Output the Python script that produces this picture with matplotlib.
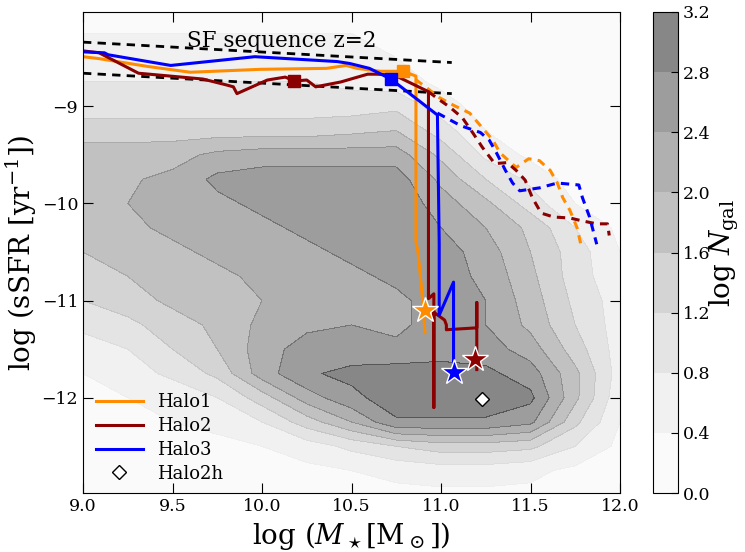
import numpy as np
import matplotlib
matplotlib.use("Agg")
import matplotlib.pyplot as plt

plt.rcParams['font.family'] = 'DejaVu Serif'
plt.rcParams['mathtext.fontset'] = 'dejavuserif'
plt.rcParams['lines.scale_dashes'] = False

# background galaxy density (log N_gal) on a coarse grid
mass_grid = [9.0, 9.25, 9.5, 9.75, 10.0, 10.25, 10.5, 10.75, 11.0, 11.25, 11.5, 11.75, 12.0]
ssfr_grid = [-13.0, -12.75, -12.5, -12.25, -12.0, -11.75, -11.5, -11.25, -11.0, -10.75,
             -10.5, -10.25, -10.0, -9.75, -9.5, -9.25, -9.0, -8.75, -8.5, -8.25, -8.0]
log_ngal = [
    [0.1, 0.1, 0.1, 0.2, 0.2, 0.2, 0.3, 0.3, 0.3, 0.3, 0.3, 0.2, 0.1],
    [0.2, 0.2, 0.2, 0.2, 0.2, 0.3, 0.4, 0.5, 0.6, 0.6, 0.5, 0.3, 0.2],
    [0.2, 0.2, 0.2, 0.3, 0.4, 0.6, 0.9, 1.2, 1.4, 1.4, 1.3, 0.8, 0.3],
    [0.2, 0.3, 0.4, 0.5, 0.8, 1.4, 2.0, 2.75, 2.75, 2.75, 2.5, 1.3, 0.4],
    [0.3, 0.4, 0.5, 0.8, 1.4, 2.2, 2.7, 3.0, 3.0, 3.0, 2.9, 1.7, 0.5],
    [0.4, 0.6, 0.9, 1.3, 2.2, 2.75, 2.9, 3.0, 3.0, 2.9, 2.6, 1.7, 0.6],
    [0.6, 0.8, 1.2, 1.6, 2.2, 2.6, 2.6, 2.5, 2.6, 2.6, 2.2, 1.4, 0.6],
    [0.9, 1.1, 1.4, 1.7, 2.1, 2.3, 2.4, 2.3, 2.6, 2.4, 1.9, 1.2, 0.6],
    [1.2, 1.4, 1.7, 1.8, 2.0, 2.2, 2.3, 2.3, 2.6, 2.4, 1.8, 1.1, 0.6],
    [1.4, 1.6, 1.8, 1.9, 2.1, 2.2, 2.3, 2.5, 2.6, 2.3, 1.7, 1.0, 0.5],
    [1.6, 1.8, 1.9, 2.1, 2.2, 2.3, 2.5, 2.7, 2.6, 2.2, 1.6, 1.0, 0.4],
    [1.8, 1.9, 2.1, 2.2, 2.3, 2.5, 2.7, 2.7, 2.4, 2.0, 1.5, 0.8, 0.3],
    [1.9, 2.0, 2.2, 2.3, 2.5, 2.6, 2.7, 2.7, 2.2, 1.7, 1.0, 0.4, 0.1],
    [1.9, 1.95, 2.1, 2.5, 2.6, 2.6, 2.6, 2.6, 1.9, 1.2, 0.7, 0.2, 0.1],
    [1.8, 1.8, 1.85, 2.1, 2.2, 2.2, 2.2, 2.2, 1.5, 0.7, 0.3, 0.1, 0.1],
    [1.4, 1.4, 1.4, 1.4, 1.4, 1.4, 1.5, 1.6, 1.0, 0.4, 0.2, 0.1, 0.1],
    [1.0, 1.0, 1.0, 1.0, 1.0, 1.0, 1.0, 1.1, 0.6, 0.2, 0.1, 0.1, 0.1],
    [0.8, 0.8, 0.8, 0.8, 0.8, 0.8, 0.7, 0.6, 0.3, 0.1, 0.1, 0.1, 0.1],
    [0.6, 0.6, 0.6, 0.6, 0.6, 0.6, 0.5, 0.4, 0.2, 0.1, 0.1, 0.1, 0.1],
    [0.4, 0.4, 0.4, 0.4, 0.4, 0.4, 0.4, 0.3, 0.2, 0.1, 0.1, 0.1, 0.1],
    [0.3, 0.3, 0.3, 0.3, 0.3, 0.3, 0.3, 0.2, 0.1, 0.1, 0.1, 0.1, 0.1],
]
levels = [0.0, 0.4, 0.8, 1.2, 1.6, 2.0, 2.4, 2.8, 3.2]

# SF sequence band at z=2
sf_mass = [9.0, 11.06]
sf_upper = [-8.34, -8.55]
sf_lower = [-8.66, -8.87]

# Halo1 (orange)
h1_mass = [9.0, 9.09, 9.36, 9.60, 9.99, 10.36, 10.47, 10.53, 10.66, 10.79, 10.86,
           10.86, 10.87, 10.88, 10.89, 10.90, 10.91]
h1_ssfr = [-8.49, -8.51, -8.59, -8.65, -8.62, -8.61, -8.58, -8.61, -8.64, -8.64, -8.69,
           -10.40, -10.48, -10.66, -10.85, -11.05, -11.33]
h1d_mass = [10.79, 10.84, 10.92, 10.99, 11.07, 11.16, 11.23, 11.29, 11.33, 11.42, 11.49,
            11.55, 11.61, 11.65, 11.68, 11.72, 11.76, 11.78]
h1d_ssfr = [-8.64, -8.70, -8.81, -8.91, -8.99, -9.07, -9.22, -9.35, -9.48, -9.63, -9.54,
            -9.56, -9.66, -9.79, -9.94, -10.07, -10.25, -10.41]

# Halo2 (dark red)
h2_mass = [9.0, 9.09, 9.31, 9.67, 9.80, 9.84, 9.86, 10.03, 10.13, 10.18, 10.25, 10.30,
           10.44, 10.59, 10.64, 10.74, 10.93, 10.93, 10.96, 10.96, 10.96, 11.02, 11.03,
           11.03, 11.20, 11.20, 11.20]
h2_ssfr = [-8.43, -8.45, -8.66, -8.72, -8.78, -8.80, -8.87, -8.73, -8.70, -8.74, -8.73,
           -8.80, -8.75, -8.67, -8.67, -8.68, -8.85, -10.98, -10.93, -12.10, -11.12,
           -11.20, -11.25, -11.30, -11.28, -11.02, -11.71]
h2d_mass = [10.93, 10.98, 11.05, 11.12, 11.18, 11.23, 11.30, 11.37, 11.42, 11.47, 11.51,
            11.56, 11.63, 11.72, 11.79, 11.87, 11.93, 11.94]
h2d_ssfr = [-8.85, -8.92, -9.01, -9.12, -9.28, -9.42, -9.59, -9.58, -9.66, -9.76, -9.94,
            -10.10, -10.14, -10.15, -10.18, -10.21, -10.21, -10.33]

# Halo3 (blue)
h3_mass = [9.0, 9.12, 9.14, 9.49, 9.96, 10.42, 10.49, 10.60, 10.72, 10.98, 10.99,
           10.99, 11.07, 11.07]
h3_ssfr = [-8.44, -8.45, -8.47, -8.58, -8.49, -8.54, -8.56, -8.61, -8.72, -9.09, -10.41,
           -11.15, -10.81, -11.64]
h3d_mass = [10.98, 11.11, 11.22, 11.27, 11.31, 11.36, 11.40, 11.44, 11.55, 11.65, 11.77,
            11.79, 11.83, 11.87]
h3d_ssfr = [-9.07, -9.20, -9.27, -9.35, -9.48, -9.66, -9.79, -9.87, -9.84, -9.79, -9.81,
            -9.94, -10.14, -10.42]

# square markers (z=2) and stars (z=0)
sq_mass = [10.79, 10.18, 10.72]
sq_ssfr = [-8.64, -8.74, -8.72]
star_mass = [10.91, 11.19, 11.07]
star_ssfr = [-11.10, -11.60, -11.73]
halo_names = ['Halo1', 'Halo2', 'Halo3']
halo_colors = ['darkorange', 'darkred', 'blue']

h2h_mass = [11.23]
h2h_ssfr = [-12.01]

fig = plt.figure(figsize=(7.45, 5.52), dpi=100)
ax = fig.add_axes([83 / 745, 1 - 493 / 552, 537 / 745, 481 / 552])
cax = fig.add_axes([653 / 745, 1 - 493 / 552, 25 / 745, 481 / 552])

X, Y = np.meshgrid(mass_grid, ssfr_grid)
cs = ax.contourf(X, Y, np.array(log_ngal), levels=levels, cmap='Greys', alpha=0.5)

dash = (6, 4.5)
ax.plot(sf_mass, sf_upper, 'k--', lw=2, dashes=dash)
ax.plot(sf_mass, sf_lower, 'k--', lw=2, dashes=dash)
ax.text(10.11, -8.33, 'SF sequence z=2', fontsize=15.5, ha='center', va='center')

ax.plot(h1_mass, h1_ssfr, color=halo_colors[0], lw=2.2, label=halo_names[0])
ax.plot(h1d_mass, h1d_ssfr, '--', color=halo_colors[0], lw=2.2, dashes=dash)
ax.plot(h2_mass, h2_ssfr, color=halo_colors[1], lw=2.2, label=halo_names[1])
ax.plot(h2d_mass, h2d_ssfr, '--', color=halo_colors[1], lw=2.2, dashes=dash)
ax.plot(h3_mass, h3_ssfr, color=halo_colors[2], lw=2.2, label=halo_names[2])
ax.plot(h3d_mass, h3d_ssfr, '--', color=halo_colors[2], lw=2.2, dashes=dash)

for i in range(3):
    ax.plot(sq_mass[i], sq_ssfr[i], 's', color=halo_colors[i], ms=9, mec=halo_colors[i], zorder=5)
    ax.plot(star_mass[i], star_ssfr[i], '*', color=halo_colors[i], ms=19, mec='white',
            mew=1, zorder=6)

ax.plot(h2h_mass, h2h_ssfr, 'D', mfc='white', mec='black', ms=7, mew=1,
        linestyle='none', label='Halo2h', zorder=6)

ax.set_xlim(9.0, 12.0)
ax.set_ylim(-12.98, -8.03)
ax.set_xticks([9.0, 9.5, 10.0, 10.5, 11.0, 11.5, 12.0])
ax.set_yticks([-12, -11, -10, -9])
ax.tick_params(direction='in', top=True, right=True, length=7, labelsize=12.5)
ax.set_xlabel(r'log ($M_\star$[$\mathrm{M}_\odot$])', fontsize=20)
ax.set_ylabel(r'log (sSFR [yr$^{-1}$])', fontsize=20, labelpad=2)

ax.legend(loc='lower left', frameon=False, fontsize=13, numpoints=1,
          handlelength=2.6, labelspacing=0.32, borderaxespad=0.3,
          bbox_to_anchor=(0.0, -0.005))

cb = fig.colorbar(cs, cax=cax, ticks=levels)
cb.ax.set_yticklabels(['%.1f' % v for v in levels])
cb.ax.tick_params(direction='in', length=5, labelsize=12.5)
cb.set_label(r'log $N_{\rm gal}$', fontsize=20, labelpad=-2)

fig.savefig('out.png', dpi=100)
